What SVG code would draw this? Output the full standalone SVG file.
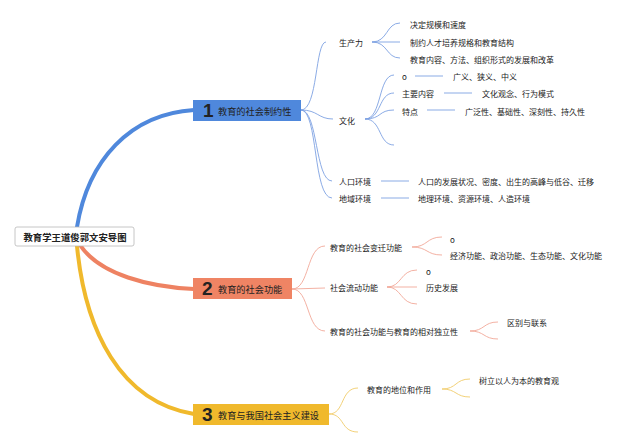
<svg xmlns="http://www.w3.org/2000/svg" width="640" height="447" viewBox="0 0 640 447">
<style>
text{font-family:"Noto Sans CJK SC","Noto Sans CJK TC",sans-serif;fill:#222;}
.t{font-size:8px;dominant-baseline:central;}
.b{font-size:9.2px;dominant-baseline:central;}
.num{font-family:"Liberation Sans","DejaVu Sans",sans-serif;font-weight:bold;font-size:19px;dominant-baseline:central;}
.main{fill:none;stroke-width:4;stroke-linecap:round;}
.thin{fill:none;stroke-width:0.9;}
.bl{stroke:#7ea2e2;}
.or{stroke:#f2a898;}
.ye{stroke:#f0cc6a;}
</style>
<rect width="640" height="447" fill="#ffffff"/>
<g id="connectors">
<path class="main" stroke="#4f88dc" d="M77,227 C88,160 130,114 194,110"/>
<path class="main" stroke="#ee8262" d="M80,245 C100,275 150,287 194,289"/>
<path class="main" stroke="#f0b92c" d="M77,246 C85,330 120,402 194,414"/>
<path class="thin bl" d="M301,110 C318,110 315,42 326,42"/>
<path class="thin bl" d="M301,110 C318,110 318,119 333,119"/>
<path class="thin bl" d="M301,110 C318,110 315,181 332,181"/>
<path class="thin bl" d="M301,110 C318,110 313,198 332,198"/>
<path class="thin bl" d="M372,42 C388,42 386,23 400,23"/>
<path class="thin bl" d="M372,42 L400,42"/>
<path class="thin bl" d="M372,42 C388,42 386,58 400,58"/>
<path class="thin bl" d="M365,119 C382,119 378,75 394,75"/>
<path class="thin bl" d="M365,119 C382,119 378,93 394,93"/>
<path class="thin bl" d="M365,119 C382,119 378,110 394,110"/>
<path class="thin bl" d="M365,119 C382,119 378,145 394,145"/>
<path class="thin bl" d="M415,76 L443,76"/>
<path class="thin bl" d="M444,93 L472,93"/>
<path class="thin bl" d="M427,110 L455,110"/>
<path class="thin bl" d="M381,181 L409,181"/>
<path class="thin bl" d="M381,198 L409,198"/>
<path class="thin or" d="M292,289 C310,289 306,246 325,246"/>
<path class="thin or" d="M292,289 L325,288"/>
<path class="thin or" d="M292,289 C310,289 306,331 325,331"/>
<path class="thin or" d="M412,247 C428,247 426,237 442,237"/>
<path class="thin or" d="M412,247 C428,247 426,255 442,255"/>
<path class="thin or" d="M387,287 C402,287 400,270 417,270"/>
<path class="thin or" d="M387,287 L417,287"/>
<path class="thin or" d="M387,287 C402,287 400,304 417,304"/>
<path class="thin or" d="M470,331 C485,331 483,322 498,322"/>
<path class="thin or" d="M470,331 C485,331 483,339 498,339"/>
<path class="thin ye" d="M329,414 C345,414 340,388 358,388"/>
<path class="thin ye" d="M329,414 C345,414 340,432 358,432"/>
<path class="thin ye" d="M442,389 C457,389 455,379 470,379"/>
<path class="thin ye" d="M442,389 C457,389 455,397 470,397"/>
</g>
<g id="root">
<rect x="15" y="227" width="119" height="19" rx="2" fill="#ffffff" stroke="#b8b8b8" stroke-width="0.8"/>
<text x="75" y="236.5" text-anchor="middle" font-size="9.4" font-weight="bold" dominant-baseline="central">教育学王道俊郭文安导图</text>
</g>
<g id="b1">
<rect x="193" y="100" width="108" height="21" fill="#4f88dc"/>
<text class="num" x="203" y="110.5" fill="#d81e2a">1</text>
<text class="b" x="218" y="110.5">教育的社会制约性</text>
</g>
<g id="b2">
<rect x="193" y="278" width="99" height="21" fill="#ef8464"/>
<text class="num" x="202" y="288.5" fill="#f8d23c">2</text>
<text class="b" x="218" y="288.5">教育的社会功能</text>
</g>
<g id="b3">
<rect x="193" y="404" width="136" height="21" fill="#f0b92c"/>
<text class="num" x="202" y="414.5" fill="#2a9fc4">3</text>
<text class="b" x="218" y="414.5">教育与我国社会主义建设</text>
</g>
<g id="n-scl"><text class="t" x="339" y="42">生产力</text></g>
<g id="n-scl1"><text class="t" x="410" y="24">决定规模和速度</text></g>
<g id="n-scl2"><text class="t" x="410" y="42">制约人才培养规格和教育结构</text></g>
<g id="n-scl3"><text class="t" x="410" y="59">教育内容、方法、组织形式的发展和改革</text></g>
<g id="n-wh"><text class="t" x="339" y="120">文化</text></g>
<g id="n-wh1"><text class="t" x="402" y="76">o</text></g>
<g id="n-wh1a"><text class="t" x="453" y="76">广义、狭义、中义</text></g>
<g id="n-wh2"><text class="t" x="402" y="93">主要内容</text></g>
<g id="n-wh2a"><text class="t" x="482" y="93">文化观念、行为模式</text></g>
<g id="n-wh3"><text class="t" x="402" y="111">特点</text></g>
<g id="n-wh3a"><text class="t" x="465" y="111">广泛性、基础性、深刻性、持久性</text></g>
<g id="n-rk"><text class="t" x="339" y="181">人口环境</text></g>
<g id="n-rka"><text class="t" x="418" y="181">人口的发展状况、密度、出生的高峰与低谷、迁移</text></g>
<g id="n-dy"><text class="t" x="339" y="198">地域环境</text></g>
<g id="n-dya"><text class="t" x="418" y="198">地理环境、资源环境、人造环境</text></g>
<g id="n-bq"><text class="t" x="330" y="247">教育的社会变迁功能</text></g>
<g id="n-bq1"><text class="t" x="450" y="239">o</text></g>
<g id="n-bq2"><text class="t" x="450" y="255">经济功能、政治功能、生态功能、文化功能</text></g>
<g id="n-ld"><text class="t" x="330" y="287">社会流动功能</text></g>
<g id="n-ld1"><text class="t" x="426" y="271">o</text></g>
<g id="n-ld2"><text class="t" x="426" y="287">历史发展</text></g>
<g id="n-dl"><text class="t" x="330" y="331">教育的社会功能与教育的相对独立性</text></g>
<g id="n-dl1"><text class="t" x="507" y="322">区别与联系</text></g>
<g id="n-dw"><text class="t" x="367" y="389">教育的地位和作用</text></g>
<g id="n-dw1"><text class="t" x="479" y="380">树立以人为本的教育观</text></g>
</svg>
